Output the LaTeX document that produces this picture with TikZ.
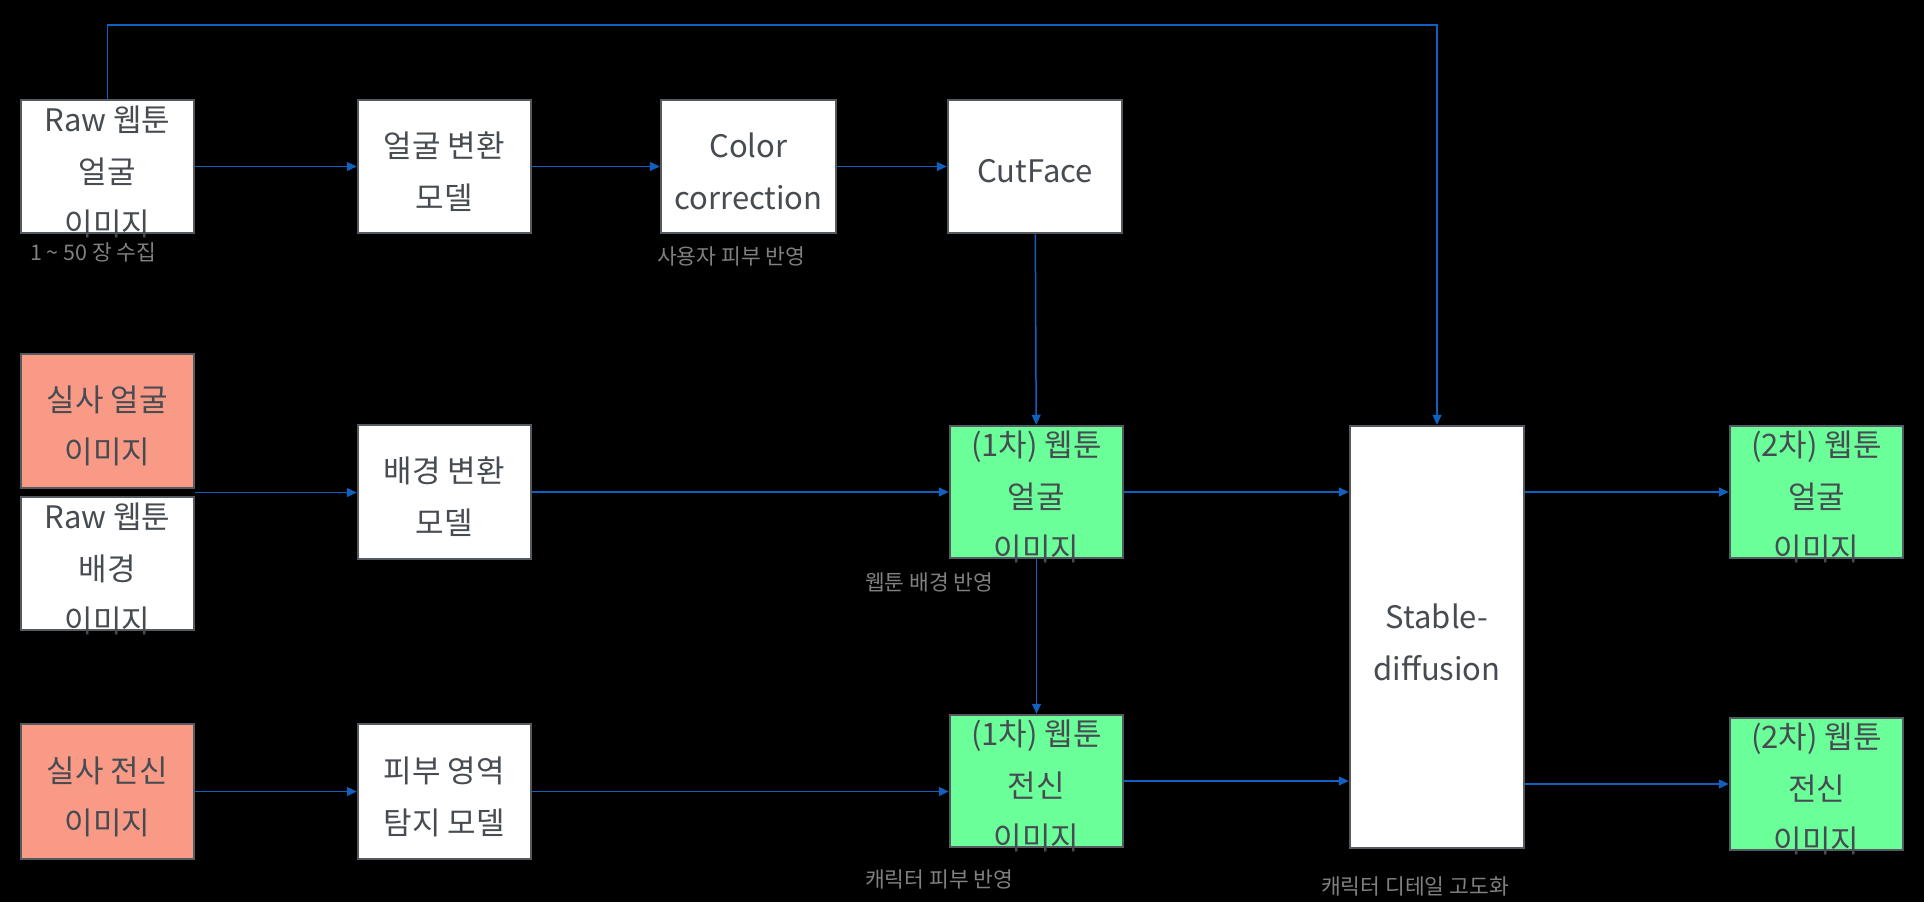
\documentclass[tikz,border=0pt]{standalone}
\usepackage{fontspec}
\setmainfont{Noto Sans CJK KR}
\usetikzlibrary{arrows.meta,calc}
\definecolor{bordergray}{HTML}{555A60}
\definecolor{txtgray}{HTML}{474C52}
\definecolor{lblgray}{HTML}{808080}
\definecolor{salmon}{HTML}{F99A87}
\definecolor{mint}{HTML}{6BFF99}
\definecolor{arrowblue}{HTML}{1060C0}
\begin{document}
\begin{tikzpicture}[x=1pt,y=-1pt,
  box/.style={draw=bordergray,line width=2.5pt,fill=white,minimum width=173pt,minimum height=133pt,inner sep=0pt},
  redbox/.style={box,fill=salmon},
  greenbox/.style={box,fill=mint},
  txt/.style={text=txtgray,font=\fontsize{31}{52}\selectfont,align=center,inner sep=0pt,yshift=-5pt},
  lbl/.style={text=lblgray,font=\fontsize{21.5}{24}\selectfont,anchor=west,inner sep=0pt},
  conn/.style={draw=arrowblue,line width=1.5pt,-{Triangle[length=10pt,width=9pt]}}
]
\fill[black] (0,0) rectangle (1924,902);
% boxes
\node[box] (b1) at (107.5,166.5) {};
\node[box] (m1) at (444.5,166.5) {};
\node[box,minimum width=175pt] (cc) at (748.5,166.5) {};
\node[box,minimum width=174pt] (cf) at (1035,166.5) {};
\node[redbox,minimum height=134pt] (rf) at (107.5,421) {};
\node[box] (rb) at (107.5,563.5) {};
\node[box,minimum height=134pt] (m2) at (444.5,492) {};
\node[greenbox,minimum height=132pt] (g1) at (1036.5,492) {};
\node[box,minimum width=174pt,minimum height=422pt] (sd) at (1437,637) {};
\node[greenbox,minimum height=132pt] (h1) at (1816.5,492) {};
\node[redbox,minimum height=135pt] (rw) at (107.5,791.5) {};
\node[box,minimum height=135pt] (m3) at (444.5,791.5) {};
\node[greenbox,minimum height=132pt] (g2) at (1036.5,781) {};
\node[greenbox,minimum height=132pt] (h2) at (1816.5,784) {};
% texts
\node[txt] (b1t) at (b1) {Raw 웹툰\\얼굴\\이미지};
\node[txt] (m1t) at (m1) {얼굴 변환\\모델};
\node[txt] (cct) at (cc) {Color\\correction};
\node[txt] (cft) at (cf) {CutFace};
\node[txt] (rft) at (rf) {실사 얼굴\\이미지};
\node[txt] (rbt) at (rb) {Raw 웹툰\\배경\\이미지};
\node[txt] (m2t) at (m2) {배경 변환\\모델};
\node[txt] (g1t) at (g1) {(1차) 웹툰\\얼굴\\이미지};
\node[txt] (sdt) at (sd) {Stable-\\diffusion};
\node[txt] (h1t) at (h1) {(2차) 웹툰\\얼굴\\이미지};
\node[txt] (rwt) at (rw) {실사 전신\\이미지};
\node[txt] (m3t) at (m3) {피부 영역\\탐지 모델};
\node[txt] (g2t) at (g2) {(1차) 웹툰\\전신\\이미지};
\node[txt] (h2t) at (h2) {(2차) 웹툰\\전신\\이미지};
% labels
\node[lbl] (l1) at (30,252) {1 \textasciitilde{} 50 장 수집};
\node[lbl] (l2) at (657,256) {사용자 피부 반영};
\node[lbl] (l3) at (865,582) {웹툰 배경 반영};
\node[lbl] (l4) at (865,879) {캐릭터 피부 반영};
\node[lbl] (l5) at (1321,886) {캐릭터 디테일 고도화};
% connectors
\coordinate (gap) at ($(rf.south east)!0.5!(rb.north east)$);
\coordinate (topL) at (b1.north |- 0,25);
\coordinate (topR) at (sd.north |- 0,25);
\draw[conn] (b1) -- (m1);
\draw[conn] (m1) -- (cc);
\draw[conn] (cc) -- (cf);
\draw[conn] (cf) -- (g1);
\draw[conn] (gap) -- (gap -| m2.west);
\draw[conn] (m2) -- (g1);
\draw[conn] (g1.east) -- (g1.east -| sd.west);
\draw[conn] (sd.east |- h1.west) -- (h1.west);
\draw[conn] (g1) -- (g2);
\draw[conn] (rw) -- (m3);
\draw[conn] (m3) -- (m3 -| g2.west);
\draw[conn] (g2.east) -- (g2.east -| sd.west);
\draw[conn] (sd.east |- h2.west) -- (h2.west);
\draw[conn] (b1.north) -- (topL) -- (topR) -- (sd.north);
\end{tikzpicture}
\end{document}
